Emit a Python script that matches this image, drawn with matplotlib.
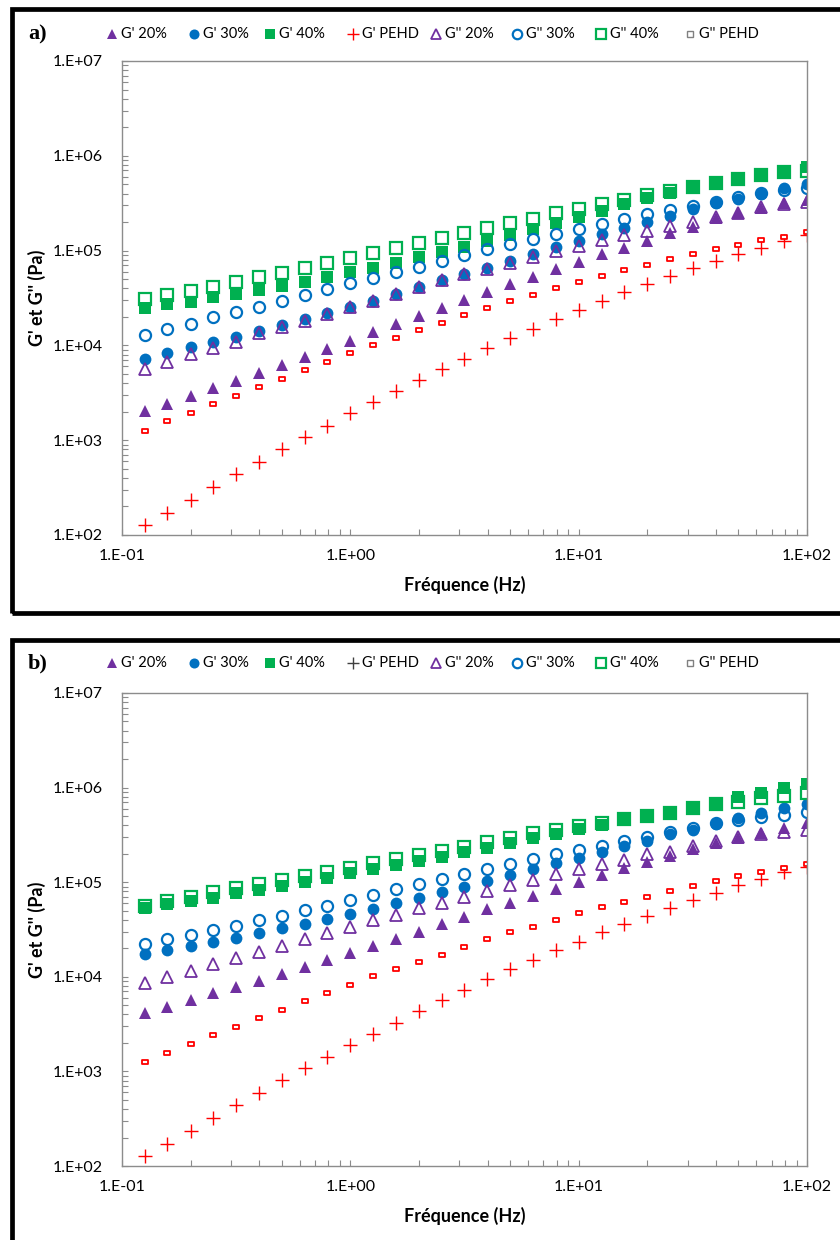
'''
Modules G' et G'' en fonction de la frequence, composites a) et b)
'''

import matplotlib
matplotlib.use('Agg')
import matplotlib.pyplot as plt
from matplotlib.lines import Line2D
from matplotlib.patches import Rectangle
from matplotlib.path import Path

# frequences (Hz)
freq = [0.126, 0.158, 0.2, 0.251, 0.316, 0.398, 0.501, 0.631, 0.794, 1.0,
        1.26, 1.58, 2.0, 2.51, 3.16, 3.98, 5.01, 6.31, 7.94, 10.0,
        12.6, 15.8, 20.0, 25.1, 31.6, 39.8, 50.1, 63.1, 79.4, 100.0]

# PEHD (same in both panels)
g1_pehd = [127, 172, 234, 320, 440, 593, 802, 1075, 1423, 1922,
           2512, 3282, 4318, 5636, 7244, 9460, 12060, 15000, 18980, 23600,
           29400, 36300, 44400, 54000, 65000, 77600, 92700, 107000, 127000, 146000]
g2_pehd = [1250, 1580, 1950, 2410, 2950, 3640, 4450, 5500, 6730, 8260,
           10100, 11970, 14500, 17200, 20900, 25000, 29400, 34000, 40000, 47000,
           54300, 62400, 70400, 80900, 92000, 103000, 115000, 129000, 140000, 156000]

# panel a)
a_g1_20 = [2030, 2410, 2930, 3530, 4210, 5150, 6210, 7600, 9230, 11200,
           13700, 16800, 20600, 25000, 30100, 36300, 44100, 53100, 64000, 76400,
           91400, 107000, 126000, 152000, 176000, 219000, 248000, 279000, 315000, 342000]
a_g1_30 = [7190, 8380, 9550, 10900, 12400, 14300, 16400, 18800, 21800, 25200,
           29400, 34800, 41000, 49000, 56200, 66000, 78200, 92000, 108000, 126000,
           148000, 172000, 202000, 233000, 273000, 315000, 350000, 395000, 454000, 504000]
a_g1_40 = [24600, 27100, 28900, 32200, 34600, 38400, 42300, 47000, 52300, 59000,
           66000, 74500, 84900, 97300, 110000, 126000, 146000, 168000, 197000, 228000,
           264000, 310000, 356000, 402000, 454000, 504000, 556000, 627000, 692000, 768000]
a_g2_20 = [5640, 6630, 8060, 9460, 10900, 13400, 15700, 18200, 21400, 25200,
           29400, 34800, 41000, 49000, 56200, 64000, 74500, 86200, 99100, 113000,
           129000, 146000, 161000, 182000, 202000, 225000, 251000, 290000, 310000, 326000]
a_g2_30 = [12900, 14900, 17000, 19700, 22300, 25600, 29400, 34000, 39100, 45200,
           51800, 59000, 67600, 78200, 89900, 103000, 117000, 133000, 150000, 169000,
           191000, 214000, 243000, 268000, 298000, 328000, 365000, 402000, 436000, 461000]
a_g2_40 = [30800, 34000, 37800, 41600, 46300, 52300, 58500, 65000, 74500, 83000,
           95100, 107000, 121000, 137000, 154000, 172000, 194000, 215000, 248000, 275000,
           310000, 342000, 386000, 426000, 472000, 513000, 565000, 627000, 680000, 697000]

# panel b)
b_g1_20 = [4180, 4830, 5690, 6700, 7760, 9100, 10700, 12800, 15100, 17700,
           21300, 25100, 29500, 35900, 43200, 51700, 60700, 71400, 84700, 101000,
           119000, 140000, 162000, 191000, 224000, 262000, 295000, 333000, 377000, 426000]
b_g1_30 = [17400, 19200, 21300, 23200, 25900, 28800, 32600, 36200, 40800, 45800,
           52200, 59900, 68600, 78200, 89700, 103000, 119000, 138000, 158000, 182000,
           207000, 242000, 275000, 321000, 357000, 410000, 475000, 536000, 605000, 672000]
b_g1_40 = [53000, 58400, 63300, 68600, 76300, 82700, 91900, 101000, 112000, 124000,
           137000, 152000, 169000, 186000, 210000, 232000, 258000, 291000, 324000, 362000,
           403000, 455000, 501000, 548000, 629000, 693000, 790000, 871000, 984000, 1092000]
b_g2_20 = [8530, 9880, 11600, 13600, 15700, 18300, 21300, 25100, 28900, 33900,
           39800, 45000, 52900, 60700, 70300, 80700, 93400, 105000, 121000, 138000,
           155000, 172000, 197000, 210000, 243000, 273000, 303000, 324000, 343000, 357000]
b_g2_30 = [22100, 24900, 27700, 31300, 34800, 39800, 44300, 50800, 56500, 64900,
           73300, 84200, 95100, 107000, 121000, 137000, 155000, 175000, 197000, 219000,
           243000, 273000, 303000, 342000, 377000, 420000, 455000, 493000, 514000, 549000]
b_g2_40 = [56500, 63300, 70300, 78200, 86200, 95800, 105000, 117000, 127000, 142000,
           158000, 175000, 194000, 215000, 237000, 264000, 291000, 329000, 357000, 393000,
           426000, 463000, 501000, 543000, 614000, 672000, 711000, 772000, 817000, 871000]

labels = ["G' 20%", "G' 30%", "G' 40%", "G' PEHD",
          "G'' 20%", "G'' 30%", "G'' 40%", "G'' PEHD"]
x_ticks = [0.1, 1, 10, 100]
x_tick_labels = ['1.E-01', '1.E+00', '1.E+01', '1.E+02']
y_ticks = [1e2, 1e3, 1e4, 1e5, 1e6, 1e7]
y_tick_labels = ['1.E+02', '1.E+03', '1.E+04', '1.E+05', '1.E+06', '1.E+07']

PURPLE = '#7030A0'
BLUE = '#0070C0'
GREEN = '#00B050'
RED = '#FF0000'

W, H = 840, 1240
# legend marker positions (pixels)
leg_x = [112, 194, 270, 353, 436, 517, 601, 690]

rect_marker = Path([(-1, -0.55), (1, -0.55), (1, 0.55), (-1, 0.55), (-1, -0.55)],
                   [Path.MOVETO, Path.LINETO, Path.LINETO, Path.LINETO, Path.CLOSEPOLY])

plt.rcParams['font.family'] = ['Lato', 'DejaVu Sans']

fig = plt.figure(figsize=(W / 100, H / 100), dpi=100)


def px(x0, y_top, x1, y_bottom):
    '''pixel box -> figure fraction [left, bottom, width, height]'''
    return [x0 / W, 1 - y_bottom / H, (x1 - x0) / W, (y_bottom - y_top) / H]


def styles(pehd_leg_color):
    '''plot styles and legend styles for the 8 series'''
    st = [
        dict(marker='^', color=PURPLE, ms=8.5, mew=0),
        dict(marker='o', color=BLUE, ms=8.5, mew=0),
        dict(marker='s', color=GREEN, ms=8, mew=0),
        dict(marker='+', color=RED, ms=9.5, mew=1.0),
        dict(marker='^', color=PURPLE, mfc='none', ms=8, mew=1.3),
        dict(marker='o', color=BLUE, mfc='none', ms=8, mew=1.6),
        dict(marker='s', color=GREEN, mfc='none', ms=8, mew=1.6),
        dict(marker=rect_marker, color=RED, mfc='white', ms=5, mew=1.3),
    ]
    leg = [dict(s) for s in st]
    for s in leg:
        s['ms'] = s['ms'] * 0.85
    leg[3]['color'] = pehd_leg_color
    leg[7] = dict(marker='s', color='#808080', mfc='white', ms=4.5, mew=1)
    return st, leg


def panel(box, series, tag, tag_y, pehd_leg_color):
    '''one framed panel with log-log axes'''
    ax = fig.add_axes(px(*box))
    st, leg = styles(pehd_leg_color)
    for vals, s in zip(series, st):
        ax.plot(freq, vals, ls='none', **s)
    ax.set_xscale('log')
    ax.set_yscale('log')
    ax.set_xlim(0.1, 100)
    ax.set_ylim(1e2, 1e7)
    ax.set_xticks(x_ticks)
    ax.set_xticklabels(x_tick_labels)
    ax.set_yticks(y_ticks)
    ax.set_yticklabels(y_tick_labels)
    ax.tick_params(which='both', direction='in', color='#8c8c8c', length=4,
                   width=0.8, labelsize=11.5, top=False, right=False)
    ax.tick_params(axis='x', pad=10)
    ax.tick_params(axis='y', pad=14)
    for sp in ax.spines.values():
        sp.set_color('#8c8c8c')
        sp.set_linewidth(1)
    ax.set_xlabel('Fréquence (Hz)', fontsize=13, fontweight='bold', va='center')
    ax.xaxis.set_label_coords(0.5, -0.105)
    ax.set_ylabel("G' et G'' (Pa)", fontsize=13, fontweight='bold', va='center')
    ax.yaxis.set_label_coords(-0.124, 0.5)

    # legend row, drawn by hand to keep the spacing of the original
    yf = 1 - tag_y / H
    for x, s, lab in zip(leg_x, leg, labels):
        fig.add_artist(Line2D([x / W], [yf], ls='none', transform=fig.transFigure, **s))
        fig.text((x + 9) / W, yf, lab, fontsize=10.5, va='center', ha='left')
    fig.text(28 / W, yf, tag, family='Liberation Serif',
             fontweight='bold', fontsize=16, va='center', ha='left')
    return ax


# panel frames
fig.add_artist(Rectangle((11.7 / W, 1 - 613 / H), 900 / W, 604 / H, fill=False,
                         ec='black', lw=3.4, transform=fig.transFigure))
fig.add_artist(Rectangle((11.7 / W, -0.1), 900 / W, 0.1 + 1 - 640 / H, fill=False,
                         ec='black', lw=3.4, transform=fig.transFigure))

panel((122, 61, 807, 535),
      [a_g1_20, a_g1_30, a_g1_40, g1_pehd, a_g2_20, a_g2_30, a_g2_40, g2_pehd],
      'a)', 34, RED)
panel((122, 693, 807, 1166),
      [b_g1_20, b_g1_30, b_g1_40, g1_pehd, b_g2_20, b_g2_30, b_g2_40, g2_pehd],
      'b)', 663, '#404040')

fig.savefig('out.png', dpi=100)
